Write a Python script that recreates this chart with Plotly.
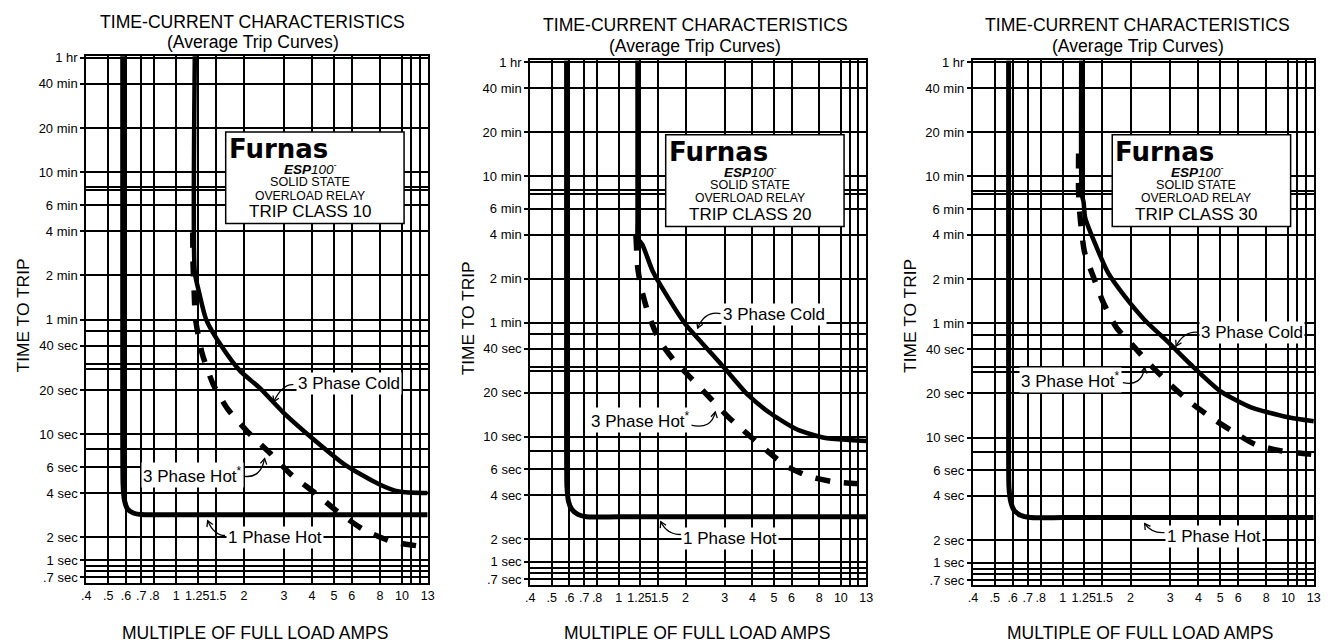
import math
import plotly.graph_objects as go

W, H = 1333, 644

# ---------------- data ----------------
# x axis: labelled ticks (label placed where printed) and gridlines
x_labelvals = [0.4, 0.5, 0.6, 0.7, 0.8, 1, 1.24, 1.53, 2, 3, 4, 5, 6, 8, 10, 13]
x_labeltext = [".4", ".5", ".6", ".7", ".8", "1", "1.25", "1.5", "2", "3", "4", "5", "6", "8", "10", "13"]
x_gridvals = [0.4, 0.5, 0.6, 0.7, 0.8, 1, 1.25, 1.5, 2, 3, 4, 5, 6, 8, 10, 11, 12, 13]

# y axis in seconds; the printed chart squeezes the part below 2 sec,
# so the "1 sec" / ".7 sec" lines sit where they are printed
y_labelvals = [3600, 2400, 1200, 600, 360, 240, 120, 60, 40, 20, 10, 6, 4, 2, 1.4, 1.07]
y_labeltext = ["1 hr", "40 min", "20 min", "10 min", "6 min", "4 min", "2 min", "1 min", "40 sec",
               "20 sec", "10 sec", "6 sec", "4 sec", "2 sec", "1 sec", ".7 sec"]
y_gridvals = [3600, 2400, 1200, 600, 480, 455, 360, 240, 120, 60, 50, 40, 30, 28, 20, 10, 8, 6, 4, 2,
              1.4, 1.28, 1.18, 1.07]

trip_classes = ["10", "20", "30"]

# Trip class 10
c10_cold_x = [1.21, 1.21, 1.256, 1.36, 1.62, 1.92, 2.35, 2.97, 4.02, 5.62, 7.92, 9.7, 13]
c10_cold_t = [3700, 125.7, 96, 60, 38, 27, 20.6, 14.2, 9.4, 6.2, 4.6, 4.1, 4.0]
c10_hot_x = [1.185, 1.187, 1.2, 1.22, 1.305, 1.458, 1.69, 2.07, 2.61, 3.24, 4.18, 5.12, 6.82, 9.08, 13]
c10_hot_t = [235, 150, 99, 60, 35.3, 22, 14.9, 10.45, 7.45, 5.32, 3.94, 3.04, 2.24, 1.87, 1.72]
c10_1ph_x = [0.58, 0.58, 0.582, 0.59, 0.611, 0.65, 0.70, 1.0, 13]
c10_1ph_t = [3700, 10, 4.6, 3.6, 3.1, 2.92, 2.86, 2.85, 2.85]

# Trip class 20
c20_cold_x = [1.216, 1.216, 1.22, 1.28, 1.42, 1.63, 2.0, 2.37, 3.02, 3.83, 4.87, 6.4, 8.42, 11.07, 13]
c20_cold_t = [3700, 300, 226, 204, 136, 94.4, 58.5, 43.7, 29, 19.2, 14.3, 11.15, 9.85, 9.5, 9.35]
c20_hot_x = [1.196, 1.2, 1.216, 1.26, 1.362, 1.52, 1.755, 2.127, 2.585, 3.12, 3.83, 4.71, 5.68, 7.22,
             9.49, 13]
c20_hot_t = [235, 216.8, 146.2, 105, 68.5, 45.8, 33.9, 24.9, 18.3, 13.6, 10.35, 7.89, 6.31, 5.35,
             4.9, 4.75]
c20_1ph_x = [0.583, 0.583, 0.585, 0.595, 0.614, 0.655, 0.716, 1.0, 13]
c20_1ph_t = [3700, 10, 4.6, 3.6, 3.21, 2.95, 2.84, 2.84, 2.84]

# Trip class 30
c30_cold_x = [1.209, 1.209, 1.218, 1.238, 1.259, 1.393, 1.594, 1.887, 2.31, 2.93, 3.71, 5.02, 6.8,
              9.86, 13]
c30_cold_t = [3700, 600, 446, 403, 314, 209, 131.6, 91.4, 63.2, 44.8, 31.3, 20.6, 16.1, 13.8, 12.9]
c30_hot_x = [1.177, 1.177, 1.197, 1.25, 1.37, 1.516, 1.736, 2.07, 2.47, 3.03, 3.74, 4.58, 5.6, 7.16,
             9.37, 13]
c30_hot_t = [860, 468, 310.7, 183.9, 123.8, 82.9, 55.8, 41.6, 30.9, 22.6, 17.1, 13.6, 11.17, 8.95,
             8.1, 7.65]
c30_1ph_x = [0.576, 0.576, 0.578, 0.59, 0.61, 0.65, 0.72, 1.0, 13]
c30_1ph_t = [3700, 10, 4.6, 3.6, 3.18, 2.95, 2.85, 2.85, 2.85]

series = [
    (c10_cold_x, c10_cold_t, c10_hot_x, c10_hot_t, c10_1ph_x, c10_1ph_t),
    (c20_cold_x, c20_cold_t, c20_hot_x, c20_hot_t, c20_1ph_x, c20_1ph_t),
    (c30_cold_x, c30_cold_t, c30_hot_x, c30_hot_t, c30_1ph_x, c30_1ph_t),
]

# ---------------- layout geometry (page pixels) ----------------
geom = [
    dict(xl=82, xr=426.5, yt=51, y1h=52.5, y2s=539, yb=585, box=(222.7, 127.7),
         title_x=250, title_y=16, sub_y=37, ytitle_x=18, ytitle_y=314, xtitle_x=252,
         cold_lbl=(346.7, 383.3), hot_lbl=(189, 475.7), one_lbl=(272.5, 539),
         cold_arr=((291, 384), (280, 383), (271, 401.5)),
         hot_arr=((242, 477), (258, 479), (262, 459)),
         one_arr=((222, 537), (211, 537), (204.5, 522))),
    dict(xl=530, xr=869, yt=55, y1h=57, y2s=540.7, yb=586.7, box=(666.7, 130.7),
         title_x=696.7, title_y=19, sub_y=40.7, ytitle_x=467, ytitle_y=317, xtitle_x=698.3,
         cold_lbl=(775.8, 313.3), hot_lbl=(640.8, 420), one_lbl=(731.7, 540),
         cold_arr=((722, 312), (706, 309), (699, 326.7)),
         hot_arr=((692, 425), (713, 430), (716.7, 411.7)),
         one_arr=((682, 536), (668, 536), (661.7, 523))),
    dict(xl=976.7, xr=1320.7, yt=55, y1h=57, y2s=541.7, yb=586.7, box=(1117.3, 130.7),
         title_x=1143, title_y=19, sub_y=40.7, ytitle_x=913, ytitle_y=314.5, xtitle_x=1145,
         cold_lbl=(1258.3, 330.7), hot_lbl=(1075, 379.3), one_lbl=(1220, 538.3),
         cold_arr=((1205, 331), (1190, 329), (1181.7, 345)),
         hot_arr=((1128, 382), (1147, 386), (1150, 366.7)),
         one_arr=((1170, 534), (1157, 535), (1150, 525))),
]

FONT = "Liberation Sans, Arial, Helvetica, sans-serif"


def px(xp):
    return xp / W


def py(yp):
    return 1 - yp / H


def curly_arrow(tail, ctrl, tip, head=6.5, ang=30):
    """quadratic curve plus an open arrow head, in paper coordinates"""
    p = "M {:.5f},{:.5f} Q {:.5f},{:.5f} {:.5f},{:.5f}".format(
        px(tail[0]), py(tail[1]), px(ctrl[0]), py(ctrl[1]), px(tip[0]), py(tip[1]))
    dx, dy = tip[0] - ctrl[0], tip[1] - ctrl[1]
    n = math.hypot(dx, dy)
    dx, dy = dx / n, dy / n
    wings = []
    for s in (1, -1):
        a = math.radians(ang) * s
        rx = dx * math.cos(a) - dy * math.sin(a)
        ry = dx * math.sin(a) + dy * math.cos(a)
        wings.append((tip[0] - head * rx, tip[1] - head * ry))
    h = "M {:.5f},{:.5f} L {:.5f},{:.5f} L {:.5f},{:.5f}".format(
        px(wings[0][0]), py(wings[0][1]), px(tip[0]), py(tip[1]), px(wings[1][0]), py(wings[1][1]))
    line = dict(color="black", width=1.3)
    return [dict(type="path", xref="paper", yref="paper", path=p, line=line, layer="above"),
            dict(type="path", xref="paper", yref="paper", path=h, line=line, layer="above")]


fig = go.Figure()
annotations = []
shapes = []
layout_axes = {}

for i, g in enumerate(geom):
    sfx = "" if i == 0 else str(i + 1)
    xa, ya = "x" + sfx, "y" + sfx
    cold_x, cold_t, hot_x, hot_t, one_x, one_t = series[i]

    fig.add_trace(go.Scatter(x=one_x, y=one_t, mode="lines", xaxis=xa, yaxis=ya,
                             line=dict(color="black", width=5, shape="spline", smoothing=0.5),
                             hoverinfo="skip", showlegend=False, name="1 Phase Hot"))
    fig.add_trace(go.Scatter(x=cold_x, y=cold_t, mode="lines", xaxis=xa, yaxis=ya,
                             line=dict(color="black", width=4.5, shape="spline", smoothing=0.6),
                             hoverinfo="skip", showlegend=False, name="3 Phase Cold"))
    fig.add_trace(go.Scatter(x=hot_x, y=hot_t, mode="lines", xaxis=xa, yaxis=ya,
                             line=dict(color="black", width=5.5, dash="15px,14px",
                                       shape="spline", smoothing=0.6),
                             hoverinfo="skip", showlegend=False, name="3 Phase Hot"))

    ppd = (g["y2s"] - g["y1h"]) / math.log10(1800)
    ytop = math.log10(3600) + (g["y1h"] - g["yt"]) / ppd
    ybot = math.log10(3600) - (g["yb"] - g["y1h"]) / ppd

    layout_axes["xaxis" + sfx] = dict(
        type="log", range=[math.log10(0.4), math.log10(13)],
        domain=[px(g["xl"]), px(g["xr"])], anchor=ya,
        tickmode="array", tickvals=x_labelvals, ticktext=x_labeltext, tickangle=0,
        showgrid=False,
        minor=dict(tickmode="array", tickvals=x_gridvals, showgrid=True, gridcolor="black",
                   gridwidth=1.8, ticks=""),
        showline=True, linecolor="black", linewidth=2, mirror=True,
        ticks="", zeroline=False,
        tickfont=dict(family=FONT, size=12.5, color="black"),
    )
    layout_axes["yaxis" + sfx] = dict(
        type="log", range=[ybot, ytop],
        domain=[py(g["yb"]), py(g["yt"])], anchor=xa,
        tickmode="array", tickvals=y_labelvals, ticktext=y_labeltext,
        showgrid=False,
        minor=dict(tickmode="array", tickvals=y_gridvals, showgrid=True, gridcolor="black",
                   gridwidth=1.8, ticks=""),
        showline=True, linecolor="black", linewidth=2, mirror=True,
        ticks="outside", ticklen=4, tickwidth=1.5, tickcolor="black", zeroline=False,
        tickfont=dict(family=FONT, size=13, color="black"),
    )

    # titles
    annotations.append(dict(x=px(g["title_x"]), y=py(g["title_y"]), xref="paper", yref="paper",
                            text="TIME-CURRENT CHARACTERISTICS", showarrow=False,
                            font=dict(family=FONT, size=17.6, color="black"),
                            xanchor="center", yanchor="middle"))
    annotations.append(dict(x=px(g["title_x"]), y=py(g["sub_y"]), xref="paper", yref="paper",
                            text="(Average Trip Curves)", showarrow=False,
                            font=dict(family=FONT, size=17.6, color="black"),
                            xanchor="center", yanchor="middle"))
    annotations.append(dict(x=px(g["ytitle_x"]), y=py(g["ytitle_y"]), xref="paper", yref="paper",
                            text="TIME TO TRIP", showarrow=False, textangle=-90,
                            font=dict(family=FONT, size=17.4, color="black"),
                            xanchor="center", yanchor="middle"))
    annotations.append(dict(x=px(g["xtitle_x"]), y=py(636), xref="paper", yref="paper",
                            text="MULTIPLE OF FULL LOAD AMPS", showarrow=False,
                            font=dict(family=FONT, size=17.5, color="black"),
                            xanchor="center", yanchor="middle"))

    # brand box
    L, T = g["box"]
    shapes.append(dict(type="rect", xref="paper", yref="paper",
                       x0=px(L), x1=px(L + 180), y0=py(T + 93), y1=py(T),
                       line=dict(color="black", width=1.5), fillcolor="white", layer="above"))
    box_lines = [
        ("<b>Furnas</b>", L + 53, T + 17, dict(family="DejaVu Sans, sans-serif", size=26)),
        ("<b><i>ESP</i></b><i>100</i><sup>-</sup>", L + 86, T + 36.5, dict(family=FONT, size=13.5)),
        ("SOLID STATE", L + 85, T + 51, dict(family=FONT, size=12.6)),
        ("OVERLOAD RELAY", L + 85, T + 64.5, dict(family=FONT, size=12.2)),
        ("TRIP CLASS " + trip_classes[i], L + 85.5, T + 81, dict(family=FONT, size=17)),
    ]
    for txt, cx, cy, f in box_lines:
        f = dict(f, color="black")
        annotations.append(dict(x=px(cx), y=py(cy), xref="paper", yref="paper", text=txt,
                                showarrow=False, font=f, xanchor="center", yanchor="middle"))

    # curve labels
    for key, txt in [("cold_lbl", "3 Phase Cold"), ("hot_lbl", "3 Phase Hot<sup>*</sup>"),
                     ("one_lbl", "1 Phase Hot")]:
        cx, cy = g[key]
        annotations.append(dict(x=px(cx), y=py(cy), xref="paper", yref="paper", text=txt,
                                showarrow=False, bgcolor="white", borderpad=1,
                                font=dict(family=FONT, size=17, color="black"),
                                xanchor="center", yanchor="middle"))
    for key in ["cold_arr", "hot_arr", "one_arr"]:
        tail, ctrl, tip = g[key]
        shapes.extend(curly_arrow(tail, ctrl, tip))

fig.update_layout(
    width=W, height=H,
    margin=dict(l=0, r=0, t=0, b=0),
    paper_bgcolor="white", plot_bgcolor="white",
    showlegend=False,
    annotations=annotations,
    shapes=shapes,
    **layout_axes,
)

# the figure is exactly the window size: drop the page's default body margin
fig.write_html("out.html", config={"displayModeBar": False},
               post_script="document.body.style.margin='0';"
                           "document.body.style.overflow='hidden';")
